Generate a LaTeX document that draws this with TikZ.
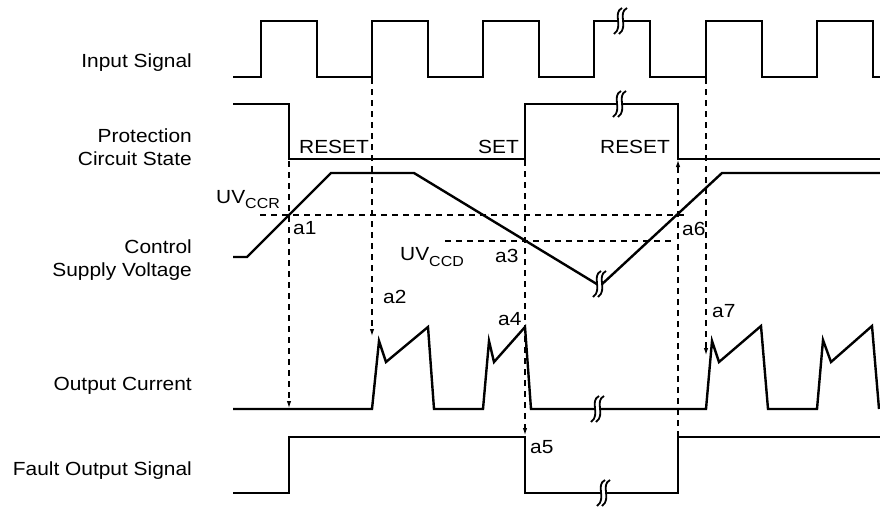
\documentclass[tikz,border=0pt]{standalone}
\usepackage{fontspec}
\setmainfont{Liberation Sans}[FakeStretch=1.1]
\usetikzlibrary{arrows.meta}
\begin{document}
\begin{tikzpicture}[x=1pt,y=-1pt,
  sig/.style={line width=2.4pt, line join=miter},
  guide/.style={line width=1.1pt, dash pattern=on 6pt off 5pt},
  garrow/.style={guide, -{Latex[length=7pt,width=4.5pt]}},
  lbl/.style={font=\fontsize{19}{23}\selectfont, inner sep=0pt, anchor=base east},
  tag/.style={font=\fontsize{19}{23}\selectfont, inner sep=0pt, anchor=base west},
  brk/.pic={
    \fill[white] (2,-13) .. controls (-8,-8) and (4,6) .. (-6,13) -- (-1,13) .. controls (9,6) and (-3,-8) .. (7,-13) -- cycle;
    \draw[line width=1.8pt] (2,-13) .. controls (-8,-8) and (4,6) .. (-6,13);
    \draw[line width=1.8pt] (7,-13) .. controls (-3,-8) and (9,6) .. (-1,13);
  }]
\useasboundingbox (0,0) rectangle (880,506);
\fill[white] (0,0) rectangle (880,506);

% left labels
\node[lbl] (lin) at (192,67) {Input Signal};
\node[lbl] (lpr1) at (192,142) {Protection};
\node[lbl] (lpr2) at (192,165) {Circuit State};
\node[lbl] (lcs1) at (192,253) {Control};
\node[lbl] (lcs2) at (192,276) {Supply Voltage};
\node[lbl] (loc) at (192,390) {Output Current};
\node[lbl] (lfo) at (192,475) {Fault Output Signal};

% input signal
\draw[sig] (233,77) -- (261,77) -- (261,21) -- (317,21) -- (317,77) -- (372,77) -- (372,21) -- (428,21) -- (428,77) -- (483,77) -- (483,21) -- (539,21) -- (539,77) -- (594,77) -- (594,21) -- (650,21) -- (650,77) -- (706,77) -- (706,21) -- (762,21) -- (762,77) -- (817,77) -- (817,21) -- (873,21) -- (873,77) -- (880,77);
\pic at (620,21) {brk};

% protection circuit state
\draw[sig] (233,104) -- (289,104) -- (289,159) -- (525,159) -- (525,104) -- (678,104) -- (678,159) -- (880,159);
\pic at (619,104) {brk};
\node[tag] (r1) at (299,153) {RESET};
\node[tag] (s1) at (478,153) {SET};
\node[tag] (r2) at (600,153) {RESET};

% control supply voltage
\draw[guide] (260,215) -- (688,215);
\draw[guide] (445,241) -- (673,241);
\draw[sig] (233,257) -- (247,257) -- (331,173) -- (414,173) -- (600,286) -- (722,173) -- (880,173);
\pic at (599,284) {brk};
\node[tag] (uvr) at (216,203) {UV\raisebox{-5pt}{\fontsize{14.5}{15}\selectfont CCR}};
\node[tag] (uvd) at (400,260) {UV\raisebox{-6pt}{\fontsize{14.5}{15}\selectfont CCD}};

% output current
\draw[sig] (233,409) -- (372,409) -- (379,341) -- (386,362) -- (428,327) -- (434,409) -- (483,409) -- (489,341) -- (494,362) -- (525,327) -- (531,409) -- (706,409) -- (712,341) -- (719,362) -- (761,326) -- (768,409) -- (817,409) -- (823,340) -- (831,362) -- (872,326) -- (879,409);
\pic at (597,409) {brk};

% fault output signal
\draw[sig] (233,493) -- (289,493) -- (289,437) -- (525,437) -- (525,493) -- (678,493) -- (678,437) -- (880,437);
\pic at (603,493) {brk};

% guides
\coordinate (v1a) at (289,161); \coordinate (v1b) at (289,408);
\coordinate (v2a) at (372,78);  \coordinate (v2b) at (372,336);
\coordinate (v3a) at (525,160); \coordinate (v3b) at (525,435);
\coordinate (v4a) at (678,437); \coordinate (v4b) at (678,160);
\coordinate (v5a) at (706,78);  \coordinate (v5b) at (706,355);
\draw[garrow] (v1a) -- (v1b);
\draw[garrow] (v2a) -- (v2b);
\draw[garrow] (v3a) -- (v3b);
\draw[garrow] (v4a) -- (v4b);
\draw[garrow] (v5a) -- (v5b);

\node[tag] (a1) at (293,234) {a1};
\node[tag] (a2) at (383,303) {a2};
\node[tag] (a3) at (495,262) {a3};
\node[tag] (a4) at (498,325) {a4};
\node[tag] (a5) at (530,453) {a5};
\node[tag] (a6) at (682,235) {a6};
\node[tag] (a7) at (712,317) {a7};
\end{tikzpicture}
\end{document}
